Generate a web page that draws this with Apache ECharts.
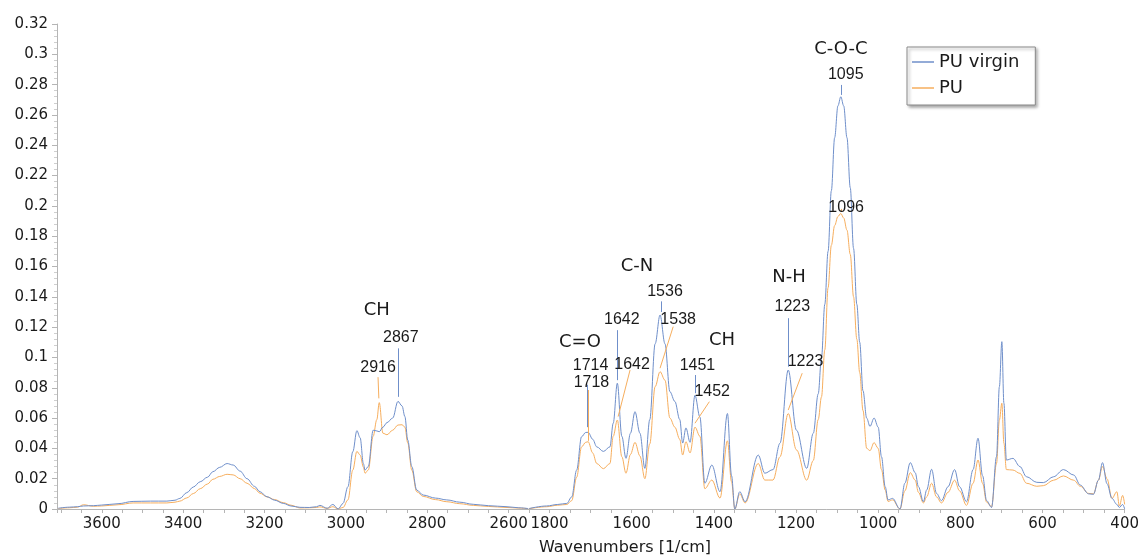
<!DOCTYPE html>
<html>
<head>
<meta charset="utf-8">
<script src="https://cdn.jsdelivr.net/npm/echarts@6/dist/echarts.min.js"></script>
<style>
html,body{margin:0;padding:0;background:#fff;}
#chart{width:1142px;height:556px;}
</style>
</head>
<body>
<div id="chart"></div>
<script>
// ---------- DATA ----------
const seriesNames = ['PU virgin', 'PU'];

// Left segment (3710 - 2550 cm-1)
const wnLeft = [3707,3680,3660,3645,3620,3600,3560,3523,3480,3440,3420,3408,3391,3375,3358,3340,3327,3310,3292,3277,3260,3243,3225,3211,3194,3175,3154,3135,3113,3090,3072,3064,3046,3032,3019,3007,2995,2983,2973,2965,2957,2953,2945,2933,2924,2918,2909,2899,2885,2872,2862,2855,2848,2838,2826,2810,2780,2752,2720,2687,2650,2604,2575,2552];
const virginLeft = [0.0005,0.0012,0.0015,0.0020,0.0022,0.0026,0.0035,0.0050,0.0052,0.0052,0.0058,0.0070,0.0108,0.0145,0.0180,0.0210,0.0246,0.0275,0.0300,0.0290,0.0250,0.0200,0.0150,0.0114,0.0081,0.0058,0.0037,0.0020,0.0011,0.0010,0.0015,0.0024,0.0005,0.0030,0.0000,0.0037,0.0147,0.0378,0.0517,0.0470,0.0300,0.0257,0.0280,0.0520,0.0515,0.0510,0.0540,0.0570,0.0600,0.0710,0.0680,0.0610,0.0455,0.0280,0.0125,0.0092,0.0072,0.0060,0.0045,0.0031,0.0022,0.0015,0.0008,0.0003];
const puLeft = [0.0003,0.0008,0.0012,0.0028,0.0018,0.0020,0.0028,0.0040,0.0040,0.0040,0.0045,0.0052,0.0073,0.0102,0.0134,0.0165,0.0196,0.0215,0.0229,0.0225,0.0200,0.0170,0.0135,0.0104,0.0080,0.0062,0.0042,0.0025,0.0007,0.0008,0.0010,0.0014,0.0004,0.0015,0.0000,0.0010,0.0060,0.0257,0.0380,0.0356,0.0277,0.0236,0.0257,0.0480,0.0590,0.0702,0.0500,0.0490,0.0520,0.0554,0.0556,0.0540,0.0436,0.0257,0.0114,0.0083,0.0062,0.0048,0.0035,0.0024,0.0017,0.0010,0.0006,0.0002];

// Right segment (1850 - 400 cm-1)
const wnRight = [1850,1807,1780,1758,1746,1734,1722,1712,1706,1695,1685,1669,1653,1645,1635,1624,1614,1603,1592,1580,1568,1556,1543,1531,1519,1507,1495,1483,1476,1468,1458,1446,1434,1422,1405,1385,1367,1357,1349,1337,1324,1292,1276,1256,1239,1219,1199,1174,1158,1146,1138,1130,1122,1114,1106,1098,1091,1084,1076,1068,1060,1052,1045,1037,1028,1020,1010,1000,992,983,976,965,947,935,922,910,902,890,882,870,858,846,830,814,802,785,769,757,746,736,724,712,705,699,694,688,672,655,639,614,598,573,549,524,508,488,476,464,454,443,431,419,413,405,400];
const virginRight = [0.0003,0.0020,0.0030,0.0037,0.0080,0.0257,0.0477,0.0505,0.0506,0.0460,0.0410,0.0380,0.0410,0.0566,0.0830,0.0480,0.0334,0.0500,0.0642,0.0500,0.0268,0.0590,0.1090,0.1280,0.1090,0.0774,0.0710,0.0590,0.0435,0.0535,0.0440,0.0750,0.0607,0.0170,0.0290,0.0114,0.0630,0.0220,0.0000,0.0114,0.0048,0.0356,0.0236,0.0260,0.0434,0.0917,0.0520,0.0268,0.0500,0.0760,0.1000,0.1350,0.1700,0.2100,0.2450,0.2660,0.2720,0.2660,0.2450,0.2120,0.1720,0.1350,0.1100,0.0780,0.0600,0.0545,0.0600,0.0540,0.0345,0.0147,0.0060,0.0070,0.0000,0.0170,0.0306,0.0240,0.0147,0.0048,0.0125,0.0262,0.0103,0.0055,0.0147,0.0260,0.0147,0.0048,0.0260,0.0467,0.0220,0.0055,0.0010,0.0345,0.0807,0.1104,0.0698,0.0323,0.0334,0.0280,0.0213,0.0176,0.0174,0.0213,0.0260,0.0224,0.0158,0.0100,0.0097,0.0190,0.0306,0.0167,0.0070,0.0030,0.0010,0.0030,0.0000];
const puRight = [0.0002,0.0015,0.0025,0.0030,0.0055,0.0210,0.0410,0.0440,0.0444,0.0370,0.0300,0.0266,0.0300,0.0480,0.0587,0.0345,0.0236,0.0360,0.0440,0.0350,0.0200,0.0430,0.0807,0.0906,0.0850,0.0600,0.0540,0.0460,0.0356,0.0444,0.0370,0.0540,0.0480,0.0134,0.0191,0.0072,0.0450,0.0180,0.0000,0.0100,0.0040,0.0300,0.0191,0.0191,0.0345,0.0630,0.0390,0.0190,0.0320,0.0590,0.0740,0.1050,0.1460,0.1740,0.1870,0.1930,0.1950,0.1920,0.1840,0.1680,0.1400,0.1120,0.0900,0.0650,0.0400,0.0385,0.0438,0.0400,0.0260,0.0125,0.0050,0.0060,0.0000,0.0120,0.0240,0.0191,0.0110,0.0040,0.0080,0.0170,0.0080,0.0040,0.0110,0.0190,0.0120,0.0024,0.0170,0.0323,0.0170,0.0045,0.0015,0.0300,0.0587,0.0698,0.0434,0.0260,0.0257,0.0235,0.0170,0.0150,0.0154,0.0190,0.0218,0.0190,0.0150,0.0103,0.0100,0.0190,0.0280,0.0200,0.0070,0.0114,0.0020,0.0090,0.0030];

// Axis ticks
const yMin = 0, yMax = 0.32, yStep = 0.02;
const xLeftRange = [2550, 3710];
const xRightRange = [400, 1850];
const xTickStep = 50, xLabelStep = 200;

// Annotations: [text, wavenumber, absorbance]
const groupLabelsLeft = [['CH', 2924, 0.131]];
const groupLabelsRight = [['C=O', 1726, 0.110], ['C-N', 1587, 0.160], ['CH', 1380, 0.111], ['N-H', 1217, 0.1528], ['C-O-C', 1091, 0.303]];
const peakLabelsLeft = [['2867', 2865, 0.113], ['2916', 2921, 0.093]];
const peakLabelsRight = [['1714', 1700, 0.0944], ['1718', 1698, 0.0834], ['1642', 1624, 0.1247], ['1642', 1599, 0.095],
  ['1536', 1519, 0.1434], ['1538', 1487, 0.125], ['1451', 1440, 0.0946], ['1452', 1404, 0.0774],
  ['1223', 1209, 0.1335], ['1223', 1177, 0.0972], ['1095', 1079, 0.2864], ['1096', 1078, 0.199]];
// leader lines: [w1, a1, w2, a2]
const virginLeadersLeft = [[2872, 0.106, 2872, 0.074]];
const virginLeadersRight = [[1708, 0.082, 1708, 0.054], [1634, 0.118, 1634, 0.085], [1529, 0.137, 1529, 0.130],
  [1446, 0.0884, 1446, 0.0764], [1218, 0.1259, 1218, 0.0939], [1091, 0.2798, 1091, 0.2732]];
const puLeadersLeft = [[2921, 0.087, 2919, 0.073]];
const puLeadersRight = [[1706, 0.0785, 1706, 0.045], [1604, 0.0917, 1633, 0.061], [1499, 0.1203, 1531, 0.0929],
  [1411, 0.0708, 1446, 0.0566], [1185, 0.0896, 1219, 0.0653], [1091, 0.198, 1091, 0.196]];

// ---------- CHART ----------
const BLUE = '#6f8fca', ORANGE = '#f6ae5e', TXT = '#1a1a1a', AX = '#b5b5b5';
const zip = (xs, ys) => xs.map((x, i) => [x, ys[i]]);

function marks(groups, peaks) {
  const d = [];
  groups.forEach(g => d.push({ name: g[0], coord: [g[1], g[2]],
    label: { fontSize: 18, fontFamily: 'DejaVu Sans' } }));
  peaks.forEach(p => d.push({ name: p[0], coord: [p[1], p[2]],
    label: { fontSize: 16, fontFamily: 'Liberation Sans' } }));
  return {
    symbol: 'circle', symbolSize: 1, silent: true, animation: false,
    itemStyle: { color: 'rgba(0,0,0,0)' },
    label: { show: true, position: 'inside', formatter: '{b}', color: TXT },
    data: d
  };
}
function leaders(list, color) {
  return {
    symbol: ['none', 'none'], silent: true, animation: false,
    label: { show: false },
    lineStyle: { color: color, width: 1, type: 'solid' },
    emphasis: { disabled: true },
    data: list.map(l => [{ coord: [l[0], l[1]] }, { coord: [l[2], l[3]] }])
  };
}
function xAxisCfg(gi, range) {
  return {
    type: 'value', gridIndex: gi, inverse: true, min: range[0], max: range[1], interval: xTickStep,
    axisLine: { show: true, onZero: false, lineStyle: { color: AX, width: 1 } },
    axisTick: { show: true, length: 4, lineStyle: { color: AX } },
    axisLabel: { margin: 8, color: TXT, fontSize: 15, fontFamily: 'DejaVu Sans',
      formatter: v => (Math.round(v) % xLabelStep === 0 ? String(Math.round(v)) : '') },
    splitLine: { show: false }
  };
}
function lineSeries(name, xi, xs, ys, color, mp, ml) {
  return {
    name: name, type: 'line', xAxisIndex: xi, yAxisIndex: xi,
    data: zip(xs, ys), showSymbol: false, symbol: 'none',
    smooth: 0.35, smoothMonotone: 'x',
    lineStyle: { color: color, width: 1 }, itemStyle: { color: color },
    markPoint: mp, markLine: ml, z: name === 'PU' ? 2 : 3
  };
}

const chart = echarts.init(document.getElementById('chart'), null, { renderer: 'canvas' });
chart.setOption({
  animation: false,
  backgroundColor: '#fff',
  grid: [
    { left: 57, top: 24, width: 472, height: 485 },
    { left: 529, top: 24, width: 596, height: 485 }
  ],
  xAxis: [xAxisCfg(0, xLeftRange), xAxisCfg(1, xRightRange)],
  yAxis: [
    { type: 'value', gridIndex: 0, min: yMin, max: yMax, interval: yStep,
      axisLine: { show: true, lineStyle: { color: AX, width: 1 } },
      axisTick: { show: true, length: 5, lineStyle: { color: AX } },
      minorTick: { show: true, splitNumber: 5, length: 3, lineStyle: { color: '#cfcfcf' } },
      axisLabel: { margin: 9, color: TXT, fontSize: 15, fontFamily: 'DejaVu Sans',
        formatter: v => String(+v.toFixed(2)) },
      splitLine: { show: false } },
    { type: 'value', gridIndex: 1, min: yMin, max: yMax, interval: yStep, show: false,
      splitLine: { show: false } }
  ],
  legend: {
    data: seriesNames.map((n, i) => ({ name: n, icon: 'rect', itemStyle: { color: i === 0 ? BLUE : ORANGE } })),
    orient: 'vertical', left: 907, top: 47,
    padding: [6, 16, 8, 5], itemGap: 8, itemWidth: 22, itemHeight: 1.5,
    backgroundColor: '#fff', borderColor: '#8a8a8a', borderWidth: 1,
    shadowBlur: 3, shadowOffsetX: 2, shadowOffsetY: 2, shadowColor: 'rgba(0,0,0,0.35)',
    textStyle: { fontSize: 18, fontFamily: 'DejaVu Sans', color: TXT, lineHeight: 18 }
  },
  graphic: [{
    type: 'text', x: 625, y: 548, silent: true,
    style: { text: 'Wavenumbers [1/cm]', align: 'center', verticalAlign: 'middle',
      font: '16px "DejaVu Sans"', fill: TXT }
  }],
  series: [
    lineSeries(seriesNames[1], 0, wnLeft, puLeft, ORANGE, undefined, leaders(puLeadersLeft, ORANGE)),
    lineSeries(seriesNames[0], 0, wnLeft, virginLeft, BLUE, marks(groupLabelsLeft, peakLabelsLeft), leaders(virginLeadersLeft, BLUE)),
    lineSeries(seriesNames[1], 1, wnRight, puRight, ORANGE, undefined, leaders(puLeadersRight, ORANGE)),
    lineSeries(seriesNames[0], 1, wnRight, virginRight, BLUE, marks(groupLabelsRight, peakLabelsRight), leaders(virginLeadersRight, BLUE))
  ]
});
</script>
</body>
</html>
